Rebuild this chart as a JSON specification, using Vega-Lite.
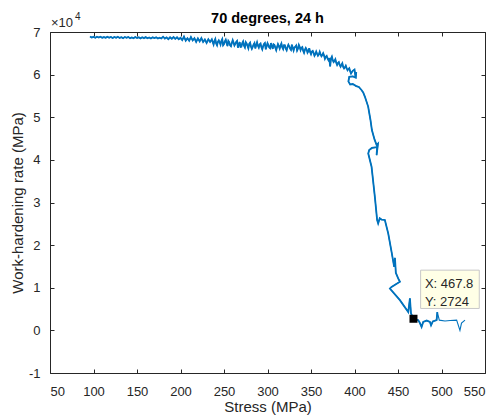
{
  "$schema": "https://vega.github.io/schema/vega-lite/v6.json",
  "autosize": "none",
  "width": 435,
  "height": 341,
  "padding": {"left": 50, "top": 32, "right": 15, "bottom": 44},
  "background": "white",
  "title": {"text": "70 degrees, 24 h", "font": "Liberation Sans", "fontSize": 14.5, "fontWeight": "bold", "color": "#000000", "offset": -14},
  "config": {
    "view": {"stroke": null},
    "axis": {
      "domainColor": "#262626", "tickColor": "#262626", "labelColor": "#262626", "titleColor": "#262626",
      "labelFont": "Liberation Sans", "titleFont": "Liberation Sans", "labelFontSize": 13, "titleFontSize": 15,
      "titleFontWeight": "normal", "grid": false, "tickSize": -4, "domainWidth": 1, "tickWidth": 1
    }
  },
  "datasets": {
    "curve": [
      {"s":96,"w":68950},{"s":98,"w":68690},{"s":100,"w":68865},{"s":102,"w":68635},{"s":104,"w":68900},{"s":106,"w":68716},{"s":108,"w":68906},{"s":110,"w":68631},{"s":112,"w":68807},{"s":114,"w":68637},{"s":116,"w":68902},{"s":118,"w":68672},{"s":120,"w":68832},{"s":122,"w":68588},{"s":124,"w":68838},{"s":126,"w":68638},{"s":128,"w":68873},{"s":130,"w":68613},{"s":132,"w":68789},{"s":134,"w":68559},{"s":136,"w":68824},{"s":138,"w":68640},{"s":140,"w":68830},{"s":142,"w":68555},{"s":144,"w":68730},{"s":146,"w":68560},{"s":148,"w":68825},{"s":150,"w":68596},{"s":152,"w":68756},{"s":154,"w":68511},{"s":156,"w":68761},{"s":158,"w":68561},{"s":160,"w":68796},{"s":162,"w":68537},{"s":164,"w":68712},{"s":166,"w":68482},{"s":168,"w":68747},{"s":170,"w":68563},{"s":172,"w":68753},{"s":174,"w":68478},{"s":176,"w":68653},{"s":178,"w":68484},{"s":180,"w":68899},{"s":182,"w":68469},{"s":184,"w":68739},{"s":186,"w":68334},{"s":188,"w":68755},{"s":190,"w":68425},{"s":192,"w":68820},{"s":194,"w":68390},{"s":196,"w":68760},{"s":198,"w":68305},{"s":200,"w":68625},
      {"s":202,"w":68110},{"s":204,"w":68919},{"s":206,"w":67979},{"s":208,"w":68538},{"s":210,"w":67948},{"s":212,"w":68807},{"s":214,"w":68017},{"s":216,"w":68526},{"s":218,"w":67686},{"s":220,"w":68495},{"s":222,"w":67805},{"s":224,"w":68564},{"s":226,"w":67674},{"s":228,"w":68233},{"s":230,"w":67443},{"s":232,"w":68302},{"s":234,"w":67662},{"s":236,"w":68271},
      {"s":238,"w":67057},{"s":239,"w":67900},{"s":240,"w":68371},{"s":241,"w":67300},{"s":242,"w":66885},{"s":243,"w":67700},{"s":244,"w":68038},{"s":245,"w":67600},{"s":246,"w":67032},{"s":247,"w":67900},{"s":248,"w":68346},{"s":249,"w":66900},{"s":250,"w":67180},{"s":251,"w":67800},{"s":252,"w":68174},{"s":253,"w":67400},{"s":254,"w":66688},{"s":255,"w":67900},{"s":256,"w":67602},{"s":257,"w":66900},{"s":258,"w":66675},{"s":259,"w":67400},{"s":260,"w":68069},{"s":261,"w":67500},{"s":262,"w":66823},{"s":263,"w":67200},{"s":264,"w":67657},{"s":265,"w":67900},{"s":266,"w":66331},{"s":267,"w":67000},{"s":268,"w":67645},{"s":269,"w":66500},{"s":270,"w":66558},{"s":271,"w":67400},{"s":272,"w":67792},{"s":273,"w":66800},{"s":274,"w":66386},{"s":275,"w":67600},{"s":276,"w":67300},
      {"s":277,"w":66700},{"s":278,"w":66159},{"s":279,"w":67200},{"s":280,"w":67498},{"s":281,"w":66600},{"s":282,"w":66037},{"s":283,"w":66500},{"s":284,"w":67056},{"s":285,"w":67400},{"s":286,"w":66155},{"s":287,"w":66900},{"s":288,"w":67574},{"s":289,"w":66800},{"s":290,"w":66353},{"s":291,"w":67100},{"s":292,"w":67292},{"s":293,"w":66400},{"s":294,"w":65911},{"s":295,"w":66700},{"s":296,"w":67170},{"s":297,"w":67400},{"s":298,"w":65948},{"s":299,"w":66600},{"s":300,"w":67367},{"s":301,"w":66900},{"s":302,"w":66386},{"s":303,"w":66200},{"s":304,"w":67405},{"s":305,"w":66700},{"s":306,"w":66024},{"s":307,"w":67100},{"s":308,"w":66963},{"s":309,"w":66300},{"s":310,"w":65742},{"s":311,"w":66500},{"s":312,"w":67161},{"s":313,"w":66700},{"s":314,"w":66100},
      {"s":315,"w":66800},{"s":316,"w":67315},{"s":317,"w":66400},{"s":318,"w":66005},{"s":319,"w":66900},{"s":320,"w":66871},{"s":321,"w":66100},{"s":322,"w":65711},{"s":323,"w":66500},{"s":324,"w":67026},{"s":325,"w":66600},{"s":326,"w":66091},{"s":327,"w":65800},{"s":328,"w":67032},{"s":329,"w":66300},{"s":330,"w":65647},{"s":331,"w":66400},{"s":332,"w":66512},{"s":333,"w":66800},{"s":334,"w":65652},{"s":335,"w":66100},{"s":336,"w":66967},{"s":337,"w":66500},{"s":338,"w":65758},{"s":339,"w":66300},{"s":340,"w":66450},{"s":341,"w":65600},{"s":342,"w":65117},{"s":343,"w":65800},{"s":344,"w":66258},{"s":345,"w":65900},{"s":346,"w":65150},{"s":347,"w":65500},{"s":348,"w":66217},{"s":349,"w":65300},{"s":350,"w":64808},{"s":351,"w":65400},{"s":352,"w":65575},
      {"s":353,"w":65100},{"s":354,"w":64424},{"s":355,"w":64800},{"s":356,"w":65402},{"s":357,"w":64900},{"s":358,"w":64431},{"s":359,"w":64700},{"s":360,"w":65345},{"s":361,"w":64800},{"s":362,"w":64308},{"s":363,"w":64600},{"s":364,"w":65027},{"s":365,"w":64500},{"s":366,"w":63731},{"s":367,"w":64200},{"s":368,"w":64389},{"s":369,"w":63800},{"s":370,"w":63413},{"s":371,"w":63900},{"s":372,"w":61900},{"s":373,"w":63800},{"s":374,"w":64225},{"s":375,"w":63400},{"s":376,"w":62955},{"s":377,"w":63200},{"s":378,"w":63605},{"s":379,"w":62800},{"s":380,"w":62275},{"s":381,"w":62700},{"s":382,"w":62925},{"s":383,"w":62300},{"s":384,"w":61875},{"s":385,"w":62300},{"s":386,"w":62675},{"s":387,"w":61800},{"s":388,"w":61464},{"s":389,"w":61700},{"s":390,"w":62091},{"s":391,"w":61500},{"s":392,"w":61018},{"s":393,"w":61300},{"s":394,"w":61495},{"s":395,"w":60800},{"s":396,"w":60273},{"s":397,"w":60600},{"s":398,"w":60900},
      {"s":400,"w":61200},{"s":401,"w":59700},{"s":402,"w":60600},{"s":401.5,"w":59300},{"s":398,"w":59600},{"s":394,"w":59500},{"s":393,"w":58400},{"s":395,"w":57700},{"s":398,"w":57800},{"s":402,"w":57300},{"s":405,"w":57100},{"s":408,"w":56400},{"s":410,"w":55800},{"s":412,"w":54800},{"s":415.7,"w":52500},{"s":418.4,"w":49300},{"s":420,"w":47000},{"s":423,"w":44800},{"s":425.4,"w":43500},{"s":427,"w":43800},{"s":425.4,"w":41100},{"s":426,"w":43000},{"s":420,"w":42800},{"s":416.9,"w":42300},{"s":415.8,"w":41500},{"s":419.6,"w":38400},{"s":423.4,"w":31300},{"s":426,"w":25900},{"s":427.2,"w":25100},{"s":429,"w":26300},{"s":431,"w":26000},{"s":434.9,"w":25900},{"s":438.8,"w":22700},{"s":442.6,"w":18400},{"s":445.6,"w":14900},{"s":446.5,"w":17000},{"s":447.5,"w":13500},{"s":450.2,"w":12200},{"s":452.2,"w":11400},{"s":442.6,"w":10200},{"s":440.7,"w":9800},{"s":452.2,"w":7100},{"s":461.8,"w":4300},{"s":463.7,"w":7500},{"s":464.9,"w":4000},{"s":467.8,"w":2724},{"s":473.3,"w":2400},{"s":475,"w":1800},{"s":477.1,"w":800},{"s":479,"w":2000},{"s":483,"w":2300},{"s":486.7,"w":2000},{"s":488,"w":1200},{"s":490,"w":2100},{"s":494.4,"w":2400},{"s":495.2,"w":4300},{"s":497.5,"w":2400},{"s":504,"w":2200},{"s":510,"w":2300},{"s":517.4,"w":2400},{"s":521.2,"w":0},{"s":523,"w":1700},{"s":527,"w":2400}
    ],
    "tip": [{"s": 467.8, "w": 2724}],
    "box": [{"s1": 476, "s2": 543.4, "w1": 14130, "w2": 5140}],
    "tiptext": [{"s": 480.9, "w": 10850, "t": "X: 467.8"}, {"s": 480.9, "w": 6690, "t": "Y: 2724"}],
    "exp": [{"s": 50, "w": 70000}]
  },
  "layer": [
    {
      "layer": [
        {
          "data": {"name": "curve"},
          "mark": {"type": "line", "color": "#0072BD", "strokeWidth": 1.1, "clip": true},
          "encoding": {
            "x": {"field": "s", "type": "quantitative", "scale": {"domain": [50, 550], "nice": false, "zero": false},
                  "axis": {"values": [50,100,150,200,250,300,350,400,450,500,550], "title": "Stress (MPa)", "labelPadding": 16, "titlePadding": 1}},
            "y": {"field": "w", "type": "quantitative", "scale": {"domain": [-10000, 70000], "nice": false, "zero": false},
                  "axis": {"values": [-10000,0,10000,20000,30000,40000,50000,60000,70000], "labelExpr": "datum.value / 10000", "title": "Work-hardening rate (MPa)", "labelPadding": 14, "titlePadding": 3}},
            "order": {"value": null}
          }
        },
        {
          "data": {"name": "curve"},
          "transform": [{"window": [{"op": "row_number", "as": "idx"}]}, {"filter": "datum.idx <= 288"}],
          "mark": {"type": "line", "color": "#0072BD", "strokeWidth": 1.8, "clip": true},
          "encoding": {
            "x": {"field": "s", "type": "quantitative", "title": "Stress (MPa)"},
            "y": {"field": "w", "type": "quantitative", "title": "Work-hardening rate (MPa)"},
            "order": {"value": null}
          }
        },
        {
          "data": {"name": "box"},
          "mark": {"type": "rect", "fill": "#FFFFE6", "stroke": "#C8C8C8", "strokeWidth": 1},
          "encoding": {
            "x": {"field": "s1", "type": "quantitative", "title": "Stress (MPa)"},
            "x2": {"field": "s2"},
            "y": {"field": "w1", "type": "quantitative", "title": "Work-hardening rate (MPa)"},
            "y2": {"field": "w2"}
          }
        },
        {
          "data": {"name": "tiptext"},
          "mark": {"type": "text", "align": "left", "baseline": "middle", "font": "Liberation Sans", "fontSize": 13, "color": "#262626"},
          "encoding": {
            "x": {"field": "s", "type": "quantitative", "title": "Stress (MPa)"},
            "y": {"field": "w", "type": "quantitative", "title": "Work-hardening rate (MPa)"},
            "text": {"field": "t"}
          }
        },
        {
          "data": {"name": "exp"},
          "mark": {"type": "text", "align": "left", "baseline": "alphabetic", "font": "Liberation Sans", "fontSize": 13, "color": "#262626", "dx": 1, "dy": -5, "text": "×10"},
          "encoding": {
            "x": {"field": "s", "type": "quantitative", "title": "Stress (MPa)"},
            "y": {"field": "w", "type": "quantitative", "title": "Work-hardening rate (MPa)"}
          }
        },
        {
          "data": {"name": "exp"},
          "mark": {"type": "text", "align": "left", "baseline": "alphabetic", "font": "Liberation Sans", "fontSize": 10, "color": "#262626", "dx": 25, "dy": -12, "text": "4"},
          "encoding": {
            "x": {"field": "s", "type": "quantitative", "title": "Stress (MPa)"},
            "y": {"field": "w", "type": "quantitative", "title": "Work-hardening rate (MPa)"}
          }
        }
      ]
    },
    {
      "data": {"name": "tip"},
      "mark": {"type": "square", "size": 64, "color": "#000000", "opacity": 1, "filled": true},
      "encoding": {
        "x": {"field": "s", "type": "quantitative", "axis": {"orient": "top", "values": [50,100,150,200,250,300,350,400,450,500,550], "labels": false, "title": null}},
        "y": {"field": "w", "type": "quantitative", "axis": {"orient": "right", "values": [-10000,0,10000,20000,30000,40000,50000,60000,70000], "labels": false, "title": null}}
      }
    }
  ],
  "resolve": {"axis": {"x": "independent", "y": "independent"}}
}
